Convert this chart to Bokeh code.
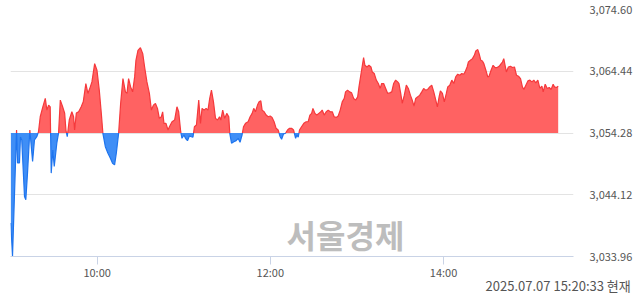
import numpy as np
from bokeh.plotting import figure
from bokeh.models import FixedTicker, NumeralTickFormatter, Label, Range1d, LinearAxis
from bokeh.embed import file_html
from bokeh.resources import INLINE

# previous close (baseline) and axis ticks
base_value = 3054.28
y_ticks = [3033.96, 3044.12, 3054.28, 3064.44, 3074.60]
x_tick_minutes = [60, 180, 300]
x_tick_labels = ["10:00", "12:00", "14:00"]
session_minutes = 390  # 09:00 -> 15:30
timestamp_text = "2025.07.07 15:20:33 현재"
watermark_text = "서울경제"

# minutes after 09:00
minutes = [
    0.2, 1.4, 4.2, 4.9, 6.2, 6.9, 7.8, 9.7, 10.6, 11.8, 13.4, 15.3, 16.6, 18.2, 19.4, 20.6, 22.4, 24.1, 25.2, 26.4,
    27.5, 28.2, 29.3, 30.3, 32.1, 33.3, 34.5, 36.1, 37.5, 38.4, 39.3, 40.7, 42.5, 43.7, 44.4, 45.6, 47.2, 49.0, 50.4, 52.2,
    53.6, 55.3, 56.4, 58.3, 59.9, 61.5, 62.9, 64.0, 65.7, 67.5, 69.2, 70.7, 72.1, 73.3, 74.9, 76.3, 77.9, 79.6, 80.7, 81.8,
    83.2, 84.6, 86.0, 86.9, 88.3, 90.0, 91.6, 92.9, 94.5, 96.2, 97.6, 99.0, 100.4, 101.8, 103.1, 104.5, 105.4, 106.3, 107.7, 109.1,
    110.1, 111.9, 113.7, 115.3, 116.5, 117.9, 118.8, 120.2, 121.2, 122.6, 123.9, 125.3, 126.4, 127.4, 128.8, 130.4, 131.6, 132.7, 134.1, 135.5,
    136.8, 138.0, 139.2, 140.6, 142.0, 143.4, 144.8, 145.7, 147.0, 148.4, 149.8, 151.2, 151.9, 153.1, 154.7, 156.3, 157.7, 159.0, 160.4, 161.4,
    162.8, 164.6, 166.0, 167.4, 168.5, 169.7, 171.1, 172.2, 173.4, 174.3, 175.7, 177.1, 178.5, 179.9, 181.2, 182.6, 184.0, 185.4, 186.8, 187.8,
    189.1, 190.5, 191.9, 193.3, 194.7, 196.1, 197.5, 198.4, 199.3, 200.2, 201.6, 203.2, 204.8, 206.2, 207.4, 208.6, 209.5, 210.9, 212.2, 213.6,
    215.0, 215.9, 217.3, 218.7, 220.1, 221.5, 222.9, 224.2, 225.6, 227.0, 228.4, 229.8, 231.2, 232.1, 233.5, 234.9, 236.3, 237.7, 239.1, 240.5,
    241.4, 243.2, 244.6, 245.5, 246.9, 248.3, 249.7, 250.6, 252.0, 253.4, 254.8, 256.1, 257.1, 258.5, 259.9, 261.3, 262.7, 264.1, 265.4, 266.8,
    268.2, 269.1, 270.3, 271.4, 272.8, 274.2, 275.6, 277.0, 278.3, 279.5, 280.7, 282.1, 283.5, 284.9, 286.2, 287.6, 289.0, 290.4, 291.8, 293.2,
    294.6, 295.7, 296.9, 297.8, 299.2, 300.5, 301.9, 302.9, 304.3, 305.7, 307.1, 308.4, 309.8, 311.2, 312.6, 314.0, 314.9, 316.3, 317.2, 318.6,
    320.0, 321.3, 322.3, 323.7, 324.6, 325.8, 326.9, 327.9, 329.3, 330.6, 331.5, 332.9, 334.3, 335.7, 337.1, 338.5, 339.9, 340.8, 341.7, 342.6,
    343.5, 344.9, 346.3, 347.7, 349.1, 350.5, 351.9, 353.3, 354.6, 355.6, 357.0, 358.4, 359.8, 361.2, 362.5, 363.9, 365.3, 366.7, 368.1, 369.0,
    370.4, 371.8, 373.2, 374.5, 375.9, 376.8, 378.2, 379.4,
]

values = [
    3039.48, 3034.02, 3054.77, 3049.36, 3049.36, 3053.62, 3053.13, 3043.84, 3043.30, 3047.73, 3054.77, 3049.58, 3053.13, 3053.67, 3054.49, 3056.95, 3058.59, 3059.97, 3058.05, 3058.87,
    3058.59, 3047.68, 3051.49, 3048.76, 3052.64, 3054.28, 3059.69, 3058.59, 3057.56, 3054.77, 3053.67, 3056.41, 3057.77, 3056.95, 3054.77, 3057.56, 3057.77, 3058.59, 3059.41, 3062.42,
    3060.79, 3061.87, 3062.69, 3065.70, 3064.60, 3061.33, 3057.51, 3054.23, 3052.03, 3050.95, 3050.13, 3049.31, 3049.04, 3050.95, 3054.23, 3059.15, 3063.24, 3061.05, 3060.79, 3063.24,
    3061.87, 3061.05, 3063.51, 3066.24, 3067.88, 3068.32, 3067.34, 3065.14, 3062.69, 3060.79, 3058.05, 3058.87, 3059.15, 3058.33, 3056.69, 3056.95, 3057.77, 3055.87, 3055.87, 3054.77,
    3055.31, 3056.13, 3056.41, 3058.59, 3057.77, 3054.49, 3053.41, 3053.95, 3053.41, 3053.02, 3053.79, 3053.67, 3053.58, 3055.31, 3055.59, 3059.69, 3055.87, 3058.33, 3058.05, 3058.33,
    3058.05, 3059.97, 3061.33, 3059.41, 3056.69, 3056.41, 3056.95, 3056.41, 3058.05, 3056.69, 3057.51, 3056.95, 3054.23, 3052.59, 3052.85, 3053.02, 3053.41, 3052.76, 3053.95, 3055.31,
    3055.87, 3056.13, 3056.95, 3057.51, 3058.33, 3057.77, 3058.87, 3059.41, 3059.57, 3058.05, 3057.77, 3057.23, 3056.95, 3057.07, 3056.85, 3056.13, 3055.05, 3054.77, 3053.67, 3053.25,
    3054.12, 3054.23, 3054.77, 3055.05, 3055.05, 3054.77, 3053.41, 3053.95, 3053.58, 3054.77, 3055.31, 3055.87, 3056.13, 3056.13, 3057.23, 3057.51, 3058.33, 3057.51, 3057.23, 3057.51,
    3057.77, 3058.05, 3057.23, 3057.77, 3058.05, 3057.77, 3057.77, 3056.95, 3056.85, 3057.07, 3058.05, 3059.41, 3059.97, 3061.05, 3061.33, 3061.05, 3060.88, 3059.97, 3059.69, 3060.23,
    3061.87, 3064.60, 3066.69, 3065.42, 3065.14, 3065.42, 3065.14, 3064.33, 3064.06, 3062.97, 3062.42, 3061.61, 3062.42, 3062.42, 3061.61, 3060.79, 3060.88, 3061.05, 3062.42, 3062.97,
    3062.69, 3062.42, 3060.79, 3059.15, 3060.51, 3062.15, 3061.61, 3060.51, 3059.69, 3058.70, 3059.97, 3060.23, 3060.51, 3061.05, 3061.61, 3061.33, 3061.44, 3061.87, 3062.15, 3061.05,
    3059.69, 3058.59, 3060.23, 3061.21, 3060.79, 3059.41, 3060.79, 3061.87, 3062.15, 3062.97, 3062.42, 3063.51, 3063.95, 3063.78, 3064.06, 3063.95, 3064.33, 3065.14, 3065.96, 3066.24,
    3066.52, 3067.06, 3067.77, 3068.00, 3067.34, 3066.24, 3066.13, 3065.70, 3064.60, 3063.51, 3063.62, 3064.60, 3065.42, 3065.05, 3065.05, 3065.26, 3065.70, 3065.96, 3066.52, 3065.42,
    3064.33, 3065.14, 3065.26, 3065.05, 3065.14, 3063.78, 3063.62, 3063.24, 3061.87, 3061.44, 3062.15, 3062.85, 3062.97, 3062.69, 3062.97, 3062.52, 3062.97, 3061.61, 3061.98, 3061.05,
    3062.31, 3061.61, 3061.77, 3061.44, 3062.31, 3061.87, 3061.77, 3061.98,
]

RED_FILL = "#ff6262"
RED_LINE = "#f5393c"
BLUE_FILL = "#3f8ef6"
BLUE_LINE = "#1e74ee"
GRID = "#e3e3e3"
AXIS = "#c9d3e6"
TEXT = "#555555"
FONT = "Noto Sans CJK KR"

# insert baseline crossings so the red/blue areas split cleanly
xs, ys = [minutes[0]], [values[0]]
for i in range(1, len(minutes)):
    a = values[i - 1] - base_value
    b = values[i] - base_value
    if a * b < 0:
        tc = minutes[i - 1] + (minutes[i] - minutes[i - 1]) * a / (a - b)
        xs.append(tc)
        ys.append(base_value)
    xs.append(minutes[i])
    ys.append(values[i])
xs = np.array(xs)
ys = np.array(ys)
up = np.maximum(ys, base_value)
dn = np.minimum(ys, base_value)
up_line = np.where(ys >= base_value - 1e-9, ys, np.nan)
dn_line = np.where(ys <= base_value + 1e-9, ys, np.nan)

p = figure(
    frame_width=563, frame_height=247, output_backend="svg", toolbar_location=None,
    x_range=Range1d(0, session_minutes), y_range=Range1d(y_ticks[0], y_ticks[-1]),
    min_border_left=10, min_border_right=67, min_border_top=9, min_border_bottom=0,
    x_axis_location="below", y_axis_location="right",
)
p.outline_line_color = None
p.background_fill_color = "white"
p.border_fill_color = "white"

# time axis
xa = p.xaxis[0]
xa.ticker = FixedTicker(ticks=x_tick_minutes)
xa.major_label_overrides = {m: lab for m, lab in zip(x_tick_minutes, x_tick_labels)}
xa.axis_line_color = AXIS
xa.major_tick_line_color = AXIS
xa.major_tick_out = 8
xa.major_tick_in = 0
xa.minor_tick_line_color = None
xa.major_label_standoff = -1
xa.major_label_text_font = FONT
xa.major_label_text_font_size = "11px"
xa.major_label_text_color = TEXT

# value axis
p.yaxis.ticker = FixedTicker(ticks=y_ticks)
p.yaxis.formatter = NumeralTickFormatter(format="0,0.00")
p.yaxis.axis_line_color = None
p.yaxis.major_tick_line_color = None
p.yaxis.minor_tick_line_color = None
p.yaxis.major_tick_out = 0
p.yaxis.major_label_standoff = 16
p.yaxis.major_label_text_font = FONT
p.yaxis.major_label_text_font_size = "11px"
p.yaxis.major_label_text_color = TEXT

p.xgrid.grid_line_color = None
p.ygrid.ticker = FixedTicker(ticks=y_ticks[1:])
p.ygrid.grid_line_color = GRID
p.ygrid.grid_line_width = 1

# timestamp row: a second, line-less axis whose only label sits at the last data time
last_t = minutes[-1]
stamp_axis = LinearAxis(
    ticker=FixedTicker(ticks=[last_t]),
    major_label_overrides={last_t: timestamp_text},
    axis_line_color=None, major_tick_line_color=None, minor_tick_line_color=None,
    major_tick_out=0, major_tick_in=0, major_label_standoff=-7,
    major_label_text_font=FONT, major_label_text_font_size="13px",
    major_label_text_color=TEXT,
)
p.add_layout(stamp_axis, "below")

# watermark (screen units, relative to the plot frame)
p.add_layout(Label(x=335, y=23, x_units="screen", y_units="screen", text=watermark_text,
                   text_font=FONT, text_font_style="bold", text_font_size="32px",
                   text_color="#bdbdbd", text_align="center", text_baseline="middle"))

# areas
p.varea(x=xs, y1=base_value, y2=up, fill_color=RED_FILL)
p.varea(x=xs, y1=base_value, y2=dn, fill_color=BLUE_FILL)
p.line(xs, up_line, line_color=RED_LINE, line_width=1.2)
p.line(xs, dn_line, line_color=BLUE_LINE, line_width=1.2)

open("out.html", "w").write(file_html(p, INLINE))
